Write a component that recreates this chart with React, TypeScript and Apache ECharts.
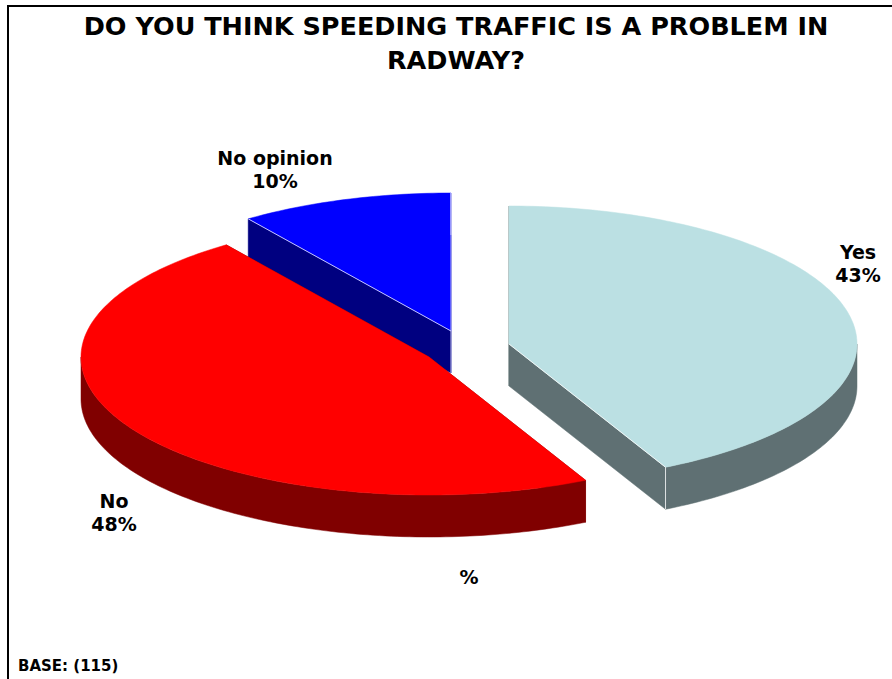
import React, { useEffect, useRef } from "react";
import * as echarts from "echarts";

const titleLines = ["DO YOU THINK SPEEDING TRAFFIC IS A PROBLEM IN", "RADWAY?"];
const categories = ["Yes", "No", "No opinion"];
const percents = [43, 48, 10];
const axisNote = "%";
const baseNote = "BASE: (115)";

const FONT = "'DejaVu Sans', Verdana, sans-serif";
const RX = 348;
const RY = 138;
const DEPTH = 42;
const sliceStyle = [
  { cx: 509, cy: 344, top: "#BBE0E3", wall: "#5F7073", edge: "rgba(255,255,255,0.8)", label: [858, 263] },
  { cx: 429, cy: 357, top: "#FF0000", wall: "#800000", edge: "", label: [114, 512] },
  { cx: 451, cy: 331, top: "#0000FF", wall: "#000080", edge: "rgba(215,215,255,0.9)", label: [275, 169] },
];
const drawOrder = [2, 0, 1];
const total = percents.reduce((a, b) => a + b, 0);

function renderSlice(_: any, api: any) {
  const i = api.value(0) as number;
  const s = sliceStyle[i];
  let before = 0;
  for (let k = 0; k < i; k++) before += percents[k];
  const a0 = (before / total) * Math.PI * 2;
  const a1 = ((before + percents[i]) / total) * Math.PI * 2;
  const pt = (t: number, dz = 0) => [s.cx + RX * Math.sin(t), s.cy - RY * Math.cos(t) + dz];
  const arc = (from: number, to: number, dz = 0) => {
    const n = Math.max(2, Math.ceil((Math.abs(to - from) / Math.PI) * 180));
    const out: number[][] = [];
    for (let k = 0; k <= n; k++) out.push(pt(from + ((to - from) * k) / n, dz));
    return out;
  };
  const apex = [s.cx, s.cy];
  const apexLow = [s.cx, s.cy + DEPTH];
  const children: any[] = [];
  const poly = (points: number[][], fill: string) =>
    children.push({ type: "polygon", shape: { points }, style: { fill, stroke: fill, lineWidth: 0.5 }, silent: true });
  const seg = (p: number[], q: number[]) =>
    children.push({
      type: "line",
      shape: { x1: p[0], y1: p[1], x2: q[0], y2: q[1] },
      style: { stroke: s.edge, lineWidth: 1 },
      silent: true,
    });
  // interior faces
  poly([apex, pt(a0), pt(a0, DEPTH), apexLow], s.wall);
  poly([apex, pt(a1), pt(a1, DEPTH), apexLow], s.wall);
  // outer rim: only the part facing the viewer (right extreme to left extreme)
  const lo = Math.max(a0, Math.PI / 2);
  const hi = Math.min(a1, (Math.PI * 3) / 2);
  if (hi > lo) poly([...arc(lo, hi), ...arc(hi, lo, DEPTH)], s.wall);
  // top
  poly([apex, ...arc(a0, a1)], s.top);
  if (s.edge) {
    if (i === 0) {
      seg(apex, pt(a1));
      seg(pt(a1), pt(a1, DEPTH));
    } else {
      seg(apex, pt(a0));
      seg(apex, pt(a1));
      seg(apex, apexLow);
      seg(pt(a1), pt(a1, DEPTH));
    }
  }
  children.push({
    type: "text",
    style: {
      x: s.label[0],
      y: s.label[1],
      text: `${categories[i]}\n${percents[i]}%`,
      font: `bold 19px ${FONT}`,
      fill: "#000",
      align: "center",
      verticalAlign: "middle",
      lineHeight: 23,
    },
    silent: true,
  });
  return { type: "group", children };
}

export default function App() {
  const ref = useRef<HTMLDivElement>(null);
  useEffect(() => {
    const chart = echarts.init(ref.current!, undefined, { renderer: "svg" });
    chart.setOption({
      animation: false,
      backgroundColor: "#fff",
      title: {
        text: titleLines.join("\n"),
        left: 451,
        top: 4,
        textAlign: "center",
        textStyle: { fontFamily: FONT, fontSize: 25.5, fontWeight: "bold", color: "#000", lineHeight: 34 },
      },
      series: [
        {
          type: "custom",
          coordinateSystem: "none",
          silent: true,
          renderItem: renderSlice,
          data: drawOrder.map((i) => [i]),
        },
      ],
      graphic: [
        { type: "line", shape: { x1: 8, y1: 6, x2: 892, y2: 6 }, style: { stroke: "#000", lineWidth: 2 } },
        { type: "line", shape: { x1: 8, y1: 5, x2: 8, y2: 679 }, style: { stroke: "#000", lineWidth: 2 } },
        {
          type: "text",
          x: 469,
          y: 577,
          style: { text: axisNote, font: `bold 19px ${FONT}`, fill: "#000", align: "center", verticalAlign: "middle" },
        },
        {
          type: "text",
          x: 18,
          y: 666,
          style: { text: baseNote, font: `bold 15px ${FONT}`, fill: "#000", align: "left", verticalAlign: "middle" },
        },
      ],
    });
    return () => chart.dispose();
  }, []);
  return <div ref={ref} style={{ position: "absolute", left: 0, top: 0, width: 892, height: 679 }} />;
}
